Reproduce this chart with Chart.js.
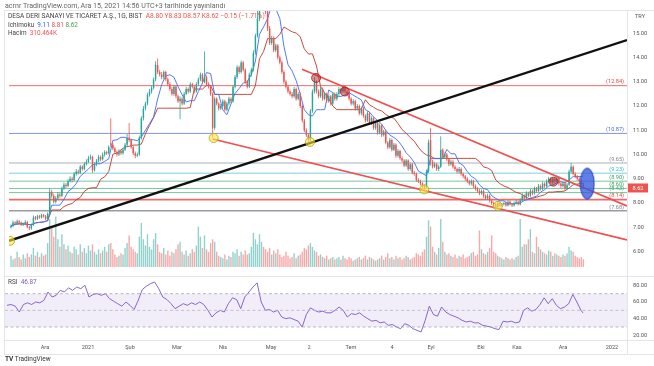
<!DOCTYPE html>
<html><head><meta charset="utf-8">
<script src="https://cdn.jsdelivr.net/npm/chart.js@4.4.1/dist/chart.umd.min.js"></script>
<style>
html,body{margin:0;padding:0;background:#fff;}
body{width:654px;height:366px;position:relative;overflow:hidden;font-family:Roboto,"Liberation Sans",Arial,sans-serif;}
canvas{position:absolute;left:0;}
#c1{top:0;}
#c2{top:276px;}
.t{position:absolute;white-space:nowrap;line-height:1;}
.ln{position:absolute;background:#e3e5ea;}
</style></head><body>
<canvas id="c1" width="654" height="276"></canvas>
<canvas id="c2" width="654" height="78"></canvas>
<div class="ln" style="left:4px;top:10px;width:650px;height:1px"></div>
<div class="ln" style="left:4px;top:276px;width:650px;height:1px"></div>
<div class="ln" style="left:4px;top:340px;width:650px;height:1px"></div>
<div class="ln" style="left:4px;top:354px;width:650px;height:1px"></div>
<div class="ln" style="left:627px;top:10px;width:1px;height:344px"></div>
<div class="ln" style="left:4px;top:10px;width:1px;height:344px"></div>
<div class="t" style="left:5px;top:1.5px;font-size:7.1px;color:#666">acrnr TradingView.com, Ara 15, 2021 14:56 UTC+3 tarihinde yayınlandı</div>
<div class="t" style="left:8px;top:13.3px;font-size:6.6px;color:#444">DESA DERI SANAYI VE TICARET A.Ş., 1G, BIST&nbsp; <span style="color:#ef5350">A8.80 Y8.83 D8.57 K8.62 −0.15 (−1.71%)</span></div>
<div class="t" style="left:8px;top:21.8px;font-size:6.4px;color:#444">Ichimoku&nbsp; <span style="color:#2962ff">9.11</span> <span style="color:#ef5350">8.81</span> <span style="color:#43a047">8.62</span></div>
<div class="t" style="left:8px;top:29.8px;font-size:6.4px;color:#444">Hacim&nbsp; <span style="color:#ef5350">310.464K</span></div>
<div class="t" style="left:8px;top:279px;font-size:6.4px;color:#444">RSI&nbsp; <span style="color:#7e57c2">46.87</span></div>
<div class="t" style="left:635px;top:14px;font-size:5.6px;color:#555">TRY</div>
<div class="t" style="left:5px;top:356px;font-size:6.5px;color:#333"><b>TV</b> TradingView</div>
<script>
// ---------- DATA ----------
const openP = [
7.00,7.05,7.20,7.15,7.25,7.20,7.10,7.15,7.22,7.00,
6.95,7.10,7.40,7.35,7.45,7.40,7.50,7.45,7.35,7.55,
8.45,8.30,8.05,8.20,8.35,8.30,8.60,8.75,8.70,8.90,
9.00,8.95,9.20,9.30,9.25,9.50,9.40,9.60,9.70,9.85,
9.90,9.35,9.60,9.75,9.90,9.80,10.00,10.10,10.05,10.45,
10.40,10.25,10.10,10.00,10.15,10.05,10.20,10.40,10.70,10.60,
10.30,10.05,9.95,10.00,10.70,11.50,11.90,12.10,12.45,12.60,
12.75,13.10,13.70,13.40,13.30,13.20,13.40,13.10,12.90,12.70,
12.50,12.80,12.40,12.20,12.30,12.10,12.50,12.70,12.60,12.90,
12.80,12.60,12.90,13.10,13.30,13.00,13.20,12.90,12.80,12.50,
11.10,12.30,12.10,11.90,12.00,12.20,11.85,12.10,12.30,12.20,
12.80,13.20,13.60,13.40,13.80,13.50,13.00,12.80,13.30,13.50,
14.20,14.90,15.60,16.40,16.90,16.50,15.90,15.20,14.60,14.80,
14.30,14.50,14.00,13.80,13.40,13.00,12.80,12.60,12.50,12.40,
12.70,12.30,12.50,12.00,11.40,11.00,10.80,10.60,11.80,12.60,
13.00,12.60,12.40,12.70,12.30,12.50,12.20,12.40,12.10,12.50,
12.30,12.50,12.70,12.60,12.80,12.60,12.50,12.30,12.10,12.20,
11.90,12.00,11.70,11.90,11.60,11.40,11.70,11.30,11.50,11.10,
11.30,10.90,11.20,10.80,10.95,10.50,10.30,10.60,10.20,10.40,
9.95,10.15,9.85,9.75,9.55,9.75,9.40,9.60,9.25,9.20,
8.95,8.90,8.80,8.70,8.65,9.30,10.60,9.70,9.50,9.60,
9.40,9.50,10.20,9.90,10.00,9.80,9.60,9.70,9.50,9.40,
9.30,9.40,9.20,9.10,9.00,8.90,8.80,8.90,8.70,8.60,
8.50,8.40,8.50,8.30,8.20,8.30,8.10,8.00,7.95,7.85,
8.00,7.90,7.95,8.00,7.90,8.05,7.95,7.90,8.00,8.05,
7.95,8.10,8.30,8.20,8.40,8.30,8.50,8.40,8.60,8.50,
8.70,8.60,8.80,8.70,8.90,9.00,8.85,9.00,8.90,9.05,
8.80,8.70,8.80,8.60,8.75,9.30,9.50,9.20,9.10,9.00,
8.90,8.80];
const highP = [
7.12,7.28,7.25,7.32,7.30,7.24,7.20,7.30,7.26,7.05,
7.15,7.48,7.46,7.52,7.50,7.56,7.55,7.50,7.62,8.60,
8.55,8.38,8.28,8.45,8.42,8.68,8.85,8.82,8.98,9.10,
9.08,9.28,9.40,9.38,9.58,9.56,9.68,9.80,9.95,10.00,
9.95,9.68,9.82,9.98,9.96,10.08,10.18,10.16,10.38,11.50,
10.48,10.32,10.18,10.22,10.20,10.28,10.48,10.85,11.30,10.66,
10.36,10.12,10.08,10.78,11.58,12.00,12.18,12.55,12.70,12.85,
13.18,13.85,13.96,13.50,13.40,13.48,13.46,13.18,12.98,12.78,
12.88,12.86,12.48,12.40,12.36,12.58,12.78,12.76,12.98,12.96,
12.86,12.98,13.18,13.38,13.36,14.25,13.26,12.98,12.86,12.56,
12.38,12.36,12.16,12.08,12.28,12.26,12.18,12.38,12.36,12.88,
13.28,13.68,13.66,13.88,13.86,13.56,13.08,13.38,13.58,14.30,
14.98,16.50,17.20,17.80,17.50,16.80,16.00,15.30,14.90,14.88,
14.58,14.56,14.08,13.88,13.48,13.08,12.88,12.68,12.58,12.78,
12.76,12.58,12.56,12.06,11.46,11.08,10.88,11.88,12.68,13.20,
13.06,12.68,12.78,12.76,12.58,12.56,12.48,12.46,12.58,12.56,
12.58,12.78,12.76,12.88,12.86,12.66,12.56,12.36,12.28,12.26,
12.08,12.06,11.98,11.96,11.66,11.78,11.76,11.58,11.56,11.38,
11.36,11.28,11.26,11.02,11.02,10.56,10.68,10.66,10.48,10.46,
10.23,10.20,9.92,9.82,9.82,9.80,9.68,9.66,9.32,9.26,
9.02,8.96,8.86,8.76,9.38,10.62,11.10,9.78,9.68,9.66,
9.58,10.75,10.26,10.08,10.06,9.86,9.78,9.76,9.56,9.46,
9.48,9.46,9.26,9.16,9.06,8.96,8.98,8.96,8.76,8.66,
8.58,8.56,8.56,8.36,8.38,8.36,8.16,8.06,8.00,8.08,
8.06,8.00,8.06,8.06,8.12,8.10,8.00,8.06,8.12,8.10,
8.20,8.40,8.36,8.48,8.46,8.58,8.56,8.68,8.66,8.78,
8.76,8.88,8.86,8.98,9.08,9.06,9.06,9.06,9.13,9.10,
8.86,8.88,8.86,8.82,9.38,9.65,9.56,9.28,9.16,9.06,
8.96,8.83];
const lowP = [
6.95,7.00,7.08,7.10,7.12,7.05,7.05,7.10,6.96,6.88,
6.90,7.05,7.28,7.30,7.35,7.36,7.40,7.30,7.30,7.50,
8.22,7.98,7.98,8.12,8.22,8.25,8.55,8.62,8.65,8.85,
8.85,8.90,9.12,9.18,9.20,9.33,9.35,9.55,9.65,9.78,
9.25,9.30,9.52,9.68,9.72,9.75,9.92,9.98,10.00,10.30,
10.18,10.02,9.92,9.94,9.98,10.00,10.15,10.35,10.52,10.24,
9.98,9.85,9.90,9.95,10.62,11.40,11.82,12.02,12.38,12.52,
12.68,13.02,13.32,13.22,13.10,13.12,13.02,12.82,12.62,12.42,
12.42,12.32,12.12,11.45,12.02,12.04,12.44,12.52,12.54,12.72,
12.52,12.55,12.84,13.02,12.92,12.94,12.82,12.72,12.42,10.70,
11.02,12.02,11.82,11.84,11.94,11.77,11.78,12.02,12.12,12.14,
12.72,13.12,13.32,13.34,13.42,12.92,12.72,12.74,13.22,13.42,
14.12,14.82,15.50,16.20,16.30,15.80,15.10,14.52,14.52,14.22,
14.22,13.92,13.72,13.32,12.92,12.72,12.52,12.42,12.32,12.34,
12.22,12.24,11.92,11.32,10.92,10.72,10.50,10.55,11.72,12.52,
12.52,12.32,12.34,12.22,12.24,12.12,12.14,12.02,12.04,12.22,
12.22,12.42,12.52,12.54,12.52,12.42,12.22,12.02,12.02,11.82,
11.82,11.62,11.62,11.52,11.32,11.34,11.22,11.22,11.02,11.02,
10.82,10.84,10.72,10.74,10.42,10.22,10.24,10.12,10.14,9.87,
9.88,9.78,9.67,9.47,9.48,9.32,9.34,9.18,9.12,8.87,
8.82,8.72,8.62,8.57,8.60,9.25,9.55,9.42,9.44,9.32,
9.32,9.44,9.84,9.84,9.72,9.52,9.54,9.42,9.32,9.22,
9.22,9.12,9.02,8.92,8.82,8.72,8.72,8.62,8.52,8.42,
8.32,8.34,8.22,8.12,8.14,8.02,7.92,7.88,7.80,7.82,
7.84,7.86,7.90,7.85,7.86,7.90,7.84,7.86,7.94,7.90,
7.90,8.04,8.12,8.14,8.24,8.24,8.32,8.34,8.42,8.44,
8.52,8.54,8.62,8.64,8.84,8.78,8.78,8.82,8.84,8.72,
8.62,8.64,8.52,8.54,8.70,9.22,9.14,9.02,8.92,8.82,
8.70,8.57];
const closeP = [
7.05,7.20,7.15,7.25,7.20,7.10,7.15,7.22,7.00,6.95,
7.10,7.40,7.35,7.45,7.40,7.50,7.45,7.35,7.55,8.45,
8.30,8.05,8.20,8.35,8.30,8.60,8.75,8.70,8.90,9.00,
8.95,9.20,9.30,9.25,9.50,9.40,9.60,9.70,9.85,9.90,
9.35,9.60,9.75,9.90,9.80,10.00,10.10,10.05,10.30,10.40,
10.25,10.10,10.00,10.15,10.05,10.20,10.40,10.70,10.60,10.30,
10.05,9.95,10.00,10.70,11.50,11.90,12.10,12.45,12.60,12.75,
13.10,13.70,13.40,13.30,13.20,13.40,13.10,12.90,12.70,12.50,
12.80,12.40,12.20,12.30,12.10,12.50,12.70,12.60,12.90,12.80,
12.60,12.90,13.10,13.30,13.00,13.20,12.90,12.80,12.50,11.10,
12.30,12.10,11.90,12.00,12.20,11.85,12.10,12.30,12.20,12.80,
13.20,13.60,13.40,13.80,13.50,13.00,12.80,13.30,13.50,14.20,
14.90,15.60,16.40,16.90,16.50,15.90,15.20,14.60,14.80,14.30,
14.50,14.00,13.80,13.40,13.00,12.80,12.60,12.50,12.40,12.70,
12.30,12.50,12.00,11.40,11.00,10.80,10.60,11.80,12.60,13.00,
12.60,12.40,12.70,12.30,12.50,12.20,12.40,12.10,12.50,12.30,
12.50,12.70,12.60,12.80,12.60,12.50,12.30,12.10,12.20,11.90,
12.00,11.70,11.90,11.60,11.40,11.70,11.30,11.50,11.10,11.30,
10.90,11.20,10.80,10.95,10.50,10.30,10.60,10.20,10.40,9.95,
10.15,9.85,9.75,9.55,9.75,9.40,9.60,9.25,9.20,8.95,
8.90,8.80,8.70,8.65,9.30,10.50,9.70,9.50,9.60,9.40,
9.50,10.20,9.90,10.00,9.80,9.60,9.70,9.50,9.40,9.30,
9.40,9.20,9.10,9.00,8.90,8.80,8.90,8.70,8.60,8.50,
8.40,8.50,8.30,8.20,8.30,8.10,8.00,7.95,7.85,8.00,
7.90,7.95,8.00,7.90,8.05,7.95,7.90,8.00,8.05,7.95,
8.10,8.30,8.20,8.40,8.30,8.50,8.40,8.60,8.50,8.70,
8.60,8.80,8.70,8.90,9.00,8.85,9.00,8.90,9.05,8.80,
8.70,8.80,8.60,8.75,9.30,9.50,9.20,9.10,9.00,8.90,
8.77,8.62];
// volume, millions of shares
const volumeM = [
0.45,0.30,0.35,0.60,0.40,0.30,0.50,0.35,0.55,0.40,
0.50,0.75,0.45,0.60,0.40,0.55,0.45,0.50,0.95,1.90,
1.60,1.20,2.00,1.10,0.80,1.30,0.90,0.70,0.85,0.60,
0.55,0.80,0.70,0.50,0.90,0.60,0.75,0.55,0.85,0.65,
0.90,0.60,0.50,0.70,0.55,0.65,0.80,0.60,0.90,0.95,
0.70,0.50,0.40,0.45,0.55,0.50,0.75,0.95,1.25,0.80,
0.70,0.60,0.55,1.20,1.75,1.10,0.85,1.30,0.80,0.70,
1.10,1.35,0.90,0.60,0.55,0.75,0.50,0.65,0.45,0.60,
0.55,0.70,0.90,1.00,0.60,0.50,0.65,0.45,0.55,0.70,
0.60,0.85,1.60,1.20,0.75,1.25,0.70,0.60,0.95,1.10,
1.00,0.60,0.45,0.40,0.35,0.50,0.30,0.45,0.40,0.60,
0.55,0.70,0.45,0.60,0.50,0.65,0.50,0.55,0.80,1.35,
1.10,0.90,1.30,1.00,0.80,0.70,0.60,0.75,0.50,0.65,
0.55,0.70,0.50,0.40,0.45,0.60,0.45,0.35,0.40,0.55,
0.35,0.45,0.50,0.60,0.75,0.70,0.85,0.95,0.80,0.65,
0.60,0.45,0.50,0.40,0.35,0.45,0.30,0.35,0.40,0.30,
0.35,0.40,0.30,0.45,0.35,0.30,0.40,0.35,0.25,0.30,
0.35,0.40,0.30,0.35,0.45,0.30,0.40,0.35,0.30,0.25,
0.30,0.35,0.45,0.30,0.40,0.55,0.35,0.40,0.30,0.45,
0.35,0.40,0.30,0.35,0.45,0.40,0.30,0.35,0.40,0.55,
0.50,0.45,0.60,0.70,1.20,1.85,1.60,0.80,0.60,0.50,
0.75,1.90,1.00,0.60,0.50,0.55,0.45,0.40,0.50,0.35,
0.45,0.40,0.50,0.35,0.40,0.45,0.55,0.60,0.45,0.50,
1.45,0.70,0.55,0.50,0.60,0.75,1.25,0.60,0.55,0.45,
0.40,0.35,0.30,0.40,0.35,0.30,0.35,0.30,0.40,0.45,
1.90,0.80,0.90,0.90,1.10,1.50,0.60,0.55,1.20,0.80,
0.70,0.60,0.55,0.50,0.65,0.60,0.45,0.55,0.50,0.45,
0.40,0.50,0.45,0.55,0.80,0.65,0.60,0.45,0.40,0.35,
0.40,0.31];
// Ichimoku lines and RSI, read every second bar (last entry = last bar)
const tenkan = [
7.05,7.12,7.14,7.14,7.12,7.10,7.18,7.20,7.22,7.27,
7.91,7.91,7.91,8.15,8.47,8.60,8.80,9.10,9.25,9.40,
9.57,9.62,9.62,9.72,9.82,10.58,10.61,10.71,10.71,10.61,
10.61,10.57,10.72,11.00,11.27,11.55,12.29,12.89,13.24,13.29,
13.19,12.80,12.47,12.17,12.22,12.22,12.60,12.95,13.38,13.34,
12.48,12.48,11.84,11.64,12.08,12.52,12.72,12.95,13.00,13.30,
13.85,14.96,15.26,15.61,16.16,16.01,15.61,14.46,13.71,13.45,
13.05,12.50,11.85,11.64,11.59,11.85,11.85,11.85,12.66,12.55,
12.40,12.40,12.45,12.55,12.45,12.35,12.25,11.85,11.75,11.55,
11.40,11.25,11.00,10.80,10.70,10.57,10.35,10.07,9.90,9.67,
9.32,9.22,9.12,9.83,9.83,9.83,9.83,10.21,10.03,10.03,
9.66,9.55,9.30,9.10,9.00,8.75,8.60,8.55,8.30,8.19,
8.09,8.09,7.97,7.97,7.98,8.00,8.10,8.15,8.23,8.28,
8.45,8.55,8.70,8.75,8.83,8.88,8.83,8.95,9.09,9.09,
9.09,9.11];
const kijun = [
7.05,7.12,7.14,7.14,7.12,7.10,7.18,7.20,7.22,7.27,
7.71,7.71,7.71,7.85,7.93,7.98,8.13,8.23,8.48,8.60,
8.63,8.63,8.98,9.08,9.30,10.01,10.06,10.19,10.31,10.34,
10.39,10.39,10.43,10.85,11.20,11.52,11.91,11.91,11.91,11.91,
11.91,11.91,11.91,11.91,11.94,12.70,12.70,12.70,12.85,12.85,
12.48,12.48,12.48,12.48,12.48,12.48,12.48,12.48,12.48,12.48,
12.84,13.95,14.25,14.78,14.78,14.78,14.96,15.26,15.16,15.06,
15.01,14.86,14.36,14.15,14.15,13.65,12.80,12.54,12.30,12.00,
11.85,11.85,11.85,11.85,11.85,11.85,11.88,12.26,12.05,11.95,
11.85,11.80,11.65,11.55,11.50,11.28,11.03,10.88,10.70,10.55,
10.30,10.10,9.98,9.93,9.84,9.84,9.84,9.84,9.84,9.84,
9.84,9.84,9.84,9.84,9.84,9.71,9.49,9.44,9.34,8.95,
8.80,8.70,8.64,8.54,8.44,8.39,8.29,8.19,8.19,8.24,
8.29,8.34,8.45,8.45,8.47,8.47,8.50,8.62,8.75,8.78,
8.80,8.81];
const rsi = [
56,57,55,48,57,59,57,60,59,62,
72,66,68,74,72,77,74,78,76,80,
66,69,70,68,70,64,61,58,55,60,
56,51,62,75,79,82,84,76,66,63,
58,52,55,58,56,59,57,60,57,50,
42,47,50,48,58,65,63,52,66,72,
78,83,60,50,51,48,50,42,40,41,
39,37,30,45,53,50,48,49,47,47,
50,54,50,42,46,45,47,43,40,37,
38,35,36,32,33,30,28,34,32,28,
26,24,38,55,45,43,54,48,45,43,
41,38,36,37,35,35,32,31,30,28,
27,37,36,37,35,36,50,53,49,51,
57,65,58,64,56,52,54,58,69,60,
50,46.87];
const rsiLevels = [70, 50, 30];
const priceTicks = [6,7,8,9,10,11,12,13,14,15];
const rsiTicks = [20,40,60,80];
// month starts (bar index) and their labels
const monthIdx = [18.5,39.5,60,82.9,105.4,128.8,147.3,167.8,187.8,206.8,231.2,248.8,271.2,295.1];
const monthLabels = ['Ara','2021','Şub','Mar','Nis','May','2','Tem','4','Eyl','Eki','Kas','Ara','2022'];
// drawn horizontal levels
const levels = [12.84,10.87,9.65,9.23,8.90,8.60,8.43,8.14,7.68];
const levelColors = ['#f06a6a','#8296dc','#aeb0b6','#7ccfe0','#78c79b','#78c79b','#78c79b','#f06a6a','#9a9ca3'];
const levelText = ['#e04848','#4a6fd6','#80838c','#3fb0cc','#3c9f68','#3c9f68','#3c9f68','#e04848','#80838c'];
const levelWidths = [1,1,1,1,1,1,1,1.6,1.6];
// trend lines (bar index, price)
const blackTrendIdx = [-0.98, 302.44], blackTrendPrice = [6.44, 14.72];
const upperTrendIdx = [142.9, 302.44], upperTrendPrice = [13.52, 7.88];
const lowerTrendIdx = [99.0, 302.44], lowerTrendPrice = [10.64, 6.48];
// marked points
const yellowIdx = [-0.5, 99.5, 146.8, 202.9, 239.0], yellowPrice = [6.44, 10.68, 10.52, 8.56, 7.88];
const redIdx = [149.8, 163.9, 266.3], redPrice = [13.16, 12.6, 8.88];
const blueIdx = [282.9], bluePrice = [8.8];

// ---------- BUILD ----------
const N = closeP.length;
const X_MIN = -0.98, X_MAX = 302.44;
const UP = '#26a69a', DN = '#ef5350';
const FONT = 'Roboto, "Liberation Sans", Arial, sans-serif';
const isUp = closeP.map((c,i)=>c>=openP[i]);
const sampleX = (arr)=>arr.map((v,k)=>({x:Math.min(k*2, N-1), y:v}));
const seg = (xs, ys)=>xs.map((x,i)=>({x:x, y:ys[i]}));

const ell = document.createElement('canvas'); ell.width = 16; ell.height = 34;
const ec = ell.getContext('2d');
ec.beginPath(); ec.ellipse(8,17,7,15.5,0,0,Math.PI*2);
ec.fillStyle = 'rgba(52,92,224,0.78)'; ec.fill();
ec.lineWidth = 1; ec.strokeStyle = '#2a45b0'; ec.stroke();

const datasets = [];
datasets.push({type:'bar', yAxisID:'yv', order:20, grouped:false, maxBarThickness:1.4,
  data: volumeM.map((v,i)=>({x:i,y:v})),
  backgroundColor: isUp.map(u=>u?'rgba(38,166,154,0.5)':'rgba(239,83,80,0.5)')});
levels.forEach((lv,j)=>datasets.push({type:'line', order:15, data:[{x:X_MIN,y:lv},{x:X_MAX,y:lv}],
  borderColor:levelColors[j], borderWidth:levelWidths[j], pointRadius:0}));
datasets.push({type:'line', order:12, data:sampleX(kijun), borderColor:'#c0392b', borderWidth:0.9, pointRadius:0, tension:0});
datasets.push({type:'line', order:11, data:sampleX(tenkan), borderColor:'#3d6df5', borderWidth:0.9, pointRadius:0, tension:0});
datasets.push({type:'bar', order:9, grouped:false, maxBarThickness:0.8,
  data: closeP.map((c,i)=>({x:i, y:[lowP[i], highP[i]]})),
  backgroundColor: isUp.map(u=>u?UP:DN)});
datasets.push({type:'bar', order:8, grouped:false, maxBarThickness:1.8, minBarLength:0.8,
  data: closeP.map((c,i)=>({x:i, y:[openP[i], c]})),
  backgroundColor: isUp.map(u=>u?UP:DN)});
datasets.push({type:'line', order:5, data:seg(blackTrendIdx, blackTrendPrice), borderColor:'#111', borderWidth:2.3, pointRadius:0});
datasets.push({type:'line', order:5, data:seg(upperTrendIdx, upperTrendPrice), borderColor:'#ef4f4f', borderWidth:1.6, pointRadius:0});
datasets.push({type:'line', order:5, data:seg(lowerTrendIdx, lowerTrendPrice), borderColor:'#ef4f4f', borderWidth:1.6, pointRadius:0});
datasets.push({type:'line', order:2, showLine:false, data:seg(yellowIdx, yellowPrice),
  pointRadius:4.5, pointBackgroundColor:'rgba(255,232,60,0.6)', pointBorderColor:'#b9a31a', pointBorderWidth:0.8});
datasets.push({type:'line', order:2, showLine:false, data:seg(redIdx, redPrice),
  pointRadius:4.5, pointBackgroundColor:'rgba(178,40,40,0.5)', pointBorderColor:'#9c2424', pointBorderWidth:0.8});
datasets.push({type:'line', order:1, showLine:false, data:seg(blueIdx, bluePrice),
  pointRadius:8, pointStyle: ell});

const levelLabelPlugin = {
  id:'levelLabels',
  afterDatasetsDraw(chart){
    const {ctx, chartArea, scales} = chart;
    ctx.save();
    ctx.font = '5.6px ' + FONT;
    ctx.textAlign = 'right'; ctx.textBaseline = 'bottom';
    levels.forEach((lv,j)=>{
      ctx.fillStyle = levelText[j];
      ctx.fillText('(' + lv.toFixed(2) + ')', chartArea.right - 3, scales.y.getPixelForValue(lv) - 0.8);
    });
    ctx.restore();
  },
  afterDraw(chart){
    const {ctx, chartArea, scales} = chart;
    const v = closeP[N-1];
    const y = scales.y.getPixelForValue(v);
    ctx.save();
    ctx.fillStyle = '#ef5350';
    ctx.fillRect(chartArea.right + 1, y - 4.5, 20, 9);
    ctx.fillStyle = '#fff'; ctx.font = '5.6px ' + FONT;
    ctx.textAlign = 'center'; ctx.textBaseline = 'middle';
    ctx.fillText(v.toFixed(2), chartArea.right + 11, y + 0.3);
    ctx.restore();
  }
};

const fixY = s=>{ s.width = 27; s.paddingTop = 0; s.paddingBottom = 0; };

new Chart(document.getElementById('c1'), {
  type:'bar',
  data:{datasets},
  options:{
    responsive:false, animation:false, events:[],
    layout:{padding:{left:5, top:11, right:0, bottom:1}},
    plugins:{legend:{display:false}, tooltip:{enabled:false}},
    scales:{
      x:{type:'linear', min:X_MIN, max:X_MAX, display:false, offset:false, grid:{display:false, offset:false}},
      y:{position:'right', min:5.36, max:15.92, afterFit:fixY,
         afterBuildTicks:s=>{ s.ticks = priceTicks.map(v=>({value:v})); },
         grid:{display:false, drawTicks:false}, border:{display:false},
         ticks:{padding:6, color:'#555', font:{size:5.6, family:FONT}, callback:v=>Number(v).toFixed(2)}},
      yv:{display:false, min:0, max:10.15}
    }
  },
  plugins:[levelLabelPlugin]
});

const rsiDs = [];
rsiDs.push({type:'line', data:[{x:X_MIN,y:rsiLevels[0]},{x:X_MAX,y:rsiLevels[0]}], borderColor:'#a7a9b0', borderWidth:0.8, borderDash:[3,2.5], pointRadius:0, fill:'+1', backgroundColor:'rgba(126,87,194,0.10)'});
rsiDs.push({type:'line', data:[{x:X_MIN,y:rsiLevels[2]},{x:X_MAX,y:rsiLevels[2]}], borderColor:'#a7a9b0', borderWidth:0.8, borderDash:[3,2.5], pointRadius:0, fill:false});
rsiDs.push({type:'line', data:[{x:X_MIN,y:rsiLevels[1]},{x:X_MAX,y:rsiLevels[1]}], borderColor:'#b9bbc1', borderWidth:0.8, borderDash:[3,2.5], pointRadius:0, fill:false});
rsiDs.push({type:'line', data:sampleX(rsi), borderColor:'#7e57c2', borderWidth:0.9, pointRadius:0, fill:false, tension:0});

new Chart(document.getElementById('c2'), {
  type:'line',
  data:{datasets:rsiDs},
  options:{
    responsive:false, animation:false, events:[],
    layout:{padding:{left:5, top:1, right:0, bottom:0}},
    plugins:{legend:{display:false}, tooltip:{enabled:false}},
    scales:{
      x:{type:'linear', min:X_MIN, max:X_MAX, position:'bottom',
         afterFit:s=>{ s.height = 14; s.paddingLeft = 0; s.paddingRight = 0; },
         afterBuildTicks:s=>{ s.ticks = monthIdx.map(v=>({value:v})); },
         grid:{display:false, drawTicks:false}, border:{display:false},
         ticks:{autoSkip:false, maxRotation:0, padding:4, color:'#555', font:{size:5.6, family:FONT},
                callback:(v,i)=>monthLabels[i]}},
      y:{position:'right', min:14.4, max:90, afterFit:fixY,
         afterBuildTicks:s=>{ s.ticks = rsiTicks.map(v=>({value:v})); },
         grid:{display:false, drawTicks:false}, border:{display:false},
         ticks:{padding:6, color:'#555', font:{size:5.6, family:FONT}, callback:v=>Number(v).toFixed(2)}}
    }
  }
});
</script>
</body></html>
